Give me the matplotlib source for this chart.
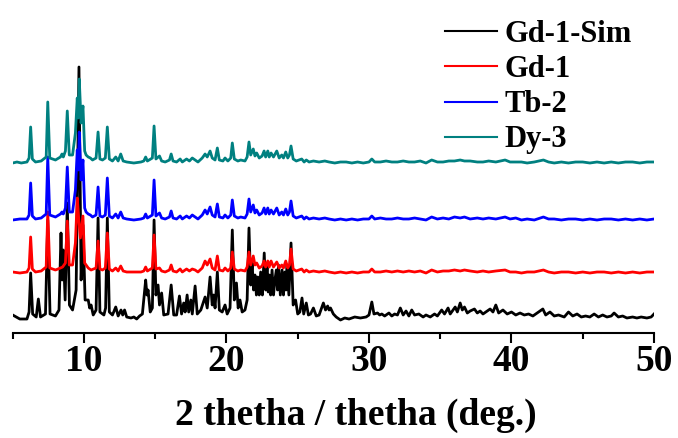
import matplotlib
matplotlib.use("Agg")
import matplotlib.pyplot as plt
from matplotlib.ticker import MultipleLocator

plt.rcParams['font.family'] = ['Liberation Serif', 'DejaVu Serif']
plt.rcParams['font.weight'] = 'bold'

series_names = ["Gd-1-Sim", "Gd-1", "Tb-2", "Dy-3"]
series_colors = ["#000000", "#ff0000", "#0000ff", "#008080"]
series_offsets = [13, 60, 113, 170]
x_ticks = [10, 20, 30, 40, 50]
x_label = "2 thetha / thetha (deg.)"

gd1_sim = [
    (5.0, 5), (5.5, 1), (6.0, 1), (6.15, 8), (6.26, 47), (6.4, 6), (6.65, 3), (6.8, 21), (6.95, 3),
    (7.3, 6), (7.46, 100), (7.62, 6), (8.0, 4), (8.25, 10), (8.39, 87), (8.47, 40), (8.55, 70),
    (8.68, 20), (8.83, 117), (8.98, 15), (9.2, 10), (9.45, 30), (9.65, 253), (9.8, 40), (9.93, 95),
    (10.08, 20), (10.3, 20), (10.4, 12), (10.5, 15), (10.65, 5), (10.85, 10), (10.99, 102),
    (11.12, 8), (11.4, 5), (11.52, 12), (11.64, 102), (11.78, 8), (12.0, 5), (12.23, 13), (12.4, 4),
    (12.6, 10), (12.72, 5), (12.85, 10), (13.0, 3), (13.3, 2), (13.5, 3), (13.7, 1), (13.9, 4),
    (14.1, 6), (14.33, 40), (14.42, 25), (14.5, 30), (14.65, 8), (14.8, 12), (14.92, 100),
    (15.05, 25), (15.2, 35), (15.3, 15), (15.45, 27), (15.6, 5), (15.9, 6), (16.12, 35), (16.3, 5),
    (16.5, 5), (16.7, 24), (16.85, 6), (17.0, 17), (17.1, 8), (17.24, 25), (17.35, 8), (17.5, 20),
    (17.6, 6), (17.8, 34), (17.95, 6), (18.2, 10), (18.5, 23), (18.65, 12), (18.85, 43), (19.0, 15),
    (19.1, 25), (19.2, 12), (19.36, 48), (19.5, 10), (19.7, 8), (19.9, 15), (20.05, 6), (20.25, 12),
    (20.41, 90), (20.55, 20), (20.7, 37), (20.82, 12), (20.95, 20), (21.1, 8), (21.3, 10),
    (21.45, 20), (21.58, 92), (21.7, 35), (21.8, 57), (21.9, 30), (22.0, 45), (22.1, 25),
    (22.2, 43), (22.3, 25), (22.4, 48), (22.52, 25), (22.65, 67), (22.75, 30), (22.85, 55),
    (22.93, 28), (23.0, 45), (23.1, 25), (23.2, 50), (23.3, 25), (23.4, 40), (23.5, 50), (23.58, 30),
    (23.65, 55), (23.78, 25), (23.9, 50), (24.0, 25), (24.1, 48), (24.18, 30), (24.25, 55),
    (24.38, 25), (24.53, 77), (24.68, 15), (24.85, 20), (25.0, 6), (25.15, 8), (25.3, 22),
    (25.42, 6), (25.6, 17), (25.75, 5), (25.9, 6), (26.1, 12), (26.3, 4), (26.5, 5), (26.8, 17),
    (26.95, 10), (27.1, 14), (27.2, 10), (27.3, 12), (27.5, 6), (27.7, 3), (28.0, 0), (28.3, 2),
    (28.6, 1), (29.0, 3), (29.4, 2), (29.8, 3), (30.0, 5), (30.2, 18), (30.35, 6), (30.6, 7),
    (30.75, 5), (30.9, 6), (31.1, 4), (31.4, 7), (31.6, 4), (31.8, 6), (32.0, 5), (32.2, 12),
    (32.4, 5), (32.6, 9), (32.8, 4), (33.0, 10), (33.2, 5), (33.5, 6), (33.8, 3), (34.0, 5),
    (34.3, 3), (34.6, 6), (34.8, 4), (35.1, 10), (35.3, 6), (35.55, 12), (35.7, 6), (35.9, 10),
    (36.05, 13), (36.2, 8), (36.4, 17), (36.55, 10), (36.7, 13), (36.9, 7), (37.1, 9), (37.4, 11),
    (37.6, 7), (37.8, 9), (38.0, 6), (38.2, 8), (38.5, 11), (38.7, 8), (38.9, 15), (39.1, 7),
    (39.4, 10), (39.7, 6), (40.0, 8), (40.3, 5), (40.6, 7), (40.9, 5), (41.2, 6), (41.5, 4),
    (41.8, 7), (42.2, 11), (42.4, 5), (42.7, 8), (43.0, 4), (43.3, 5), (43.7, 3), (44.0, 8),
    (44.3, 4), (44.6, 6), (44.9, 3), (45.2, 4), (45.5, 3), (45.8, 6), (46.1, 3), (46.4, 5),
    (46.7, 3), (47.0, 4), (47.2, 7), (47.5, 3), (47.8, 4), (48.1, 2), (48.5, 3), (48.8, 2),
    (49.1, 3), (49.5, 2), (49.8, 3), (50.0, 6),
]

gd1 = [
    (5.0, 1), (5.5, 0), (6.0, 1), (6.15, 5), (6.26, 36), (6.38, 4), (6.6, 1), (7.0, 2), (7.35, 6),
    (7.46, 61), (7.6, 5), (8.0, 3), (8.35, 5), (8.5, 6), (8.7, 10), (8.83, 52), (8.97, 8), (9.2, 8),
    (9.4, 30), (9.53, 75), (9.63, 55), (9.75, 35), (9.93, 57), (10.05, 10), (10.3, 5), (10.5, 3),
    (10.85, 5), (10.99, 32), (11.12, 4), (11.3, 3), (11.5, 5), (11.64, 40), (11.78, 4), (12.0, 2),
    (12.23, 5), (12.4, 2), (12.58, 7), (12.75, 2), (13.0, 1), (13.5, 1), (14.0, 1), (14.2, 2),
    (14.33, 6), (14.45, 2), (14.8, 5), (14.92, 38), (15.05, 4), (15.3, 5), (15.45, 2), (15.7, 1),
    (16.0, 3), (16.12, 8), (16.25, 2), (16.5, 1), (16.75, 4), (16.9, 1), (17.2, 4), (17.4, 2),
    (17.6, 4), (17.8, 3), (18.0, 1), (18.3, 5), (18.5, 12), (18.65, 8), (18.85, 14), (19.0, 5),
    (19.2, 3), (19.36, 17), (19.5, 3), (19.75, 2), (19.9, 5), (20.1, 2), (20.3, 5), (20.41, 21),
    (20.55, 4), (20.8, 2), (21.0, 3), (21.3, 2), (21.45, 6), (21.58, 21), (21.7, 8), (21.88, 17),
    (22.0, 8), (22.12, 10), (22.3, 5), (22.5, 7), (22.64, 12), (22.75, 6), (22.9, 12), (23.0, 6),
    (23.13, 12), (23.3, 6), (23.53, 11), (23.7, 5), (23.88, 8), (24.0, 5), (24.16, 12), (24.3, 5),
    (24.42, 8), (24.53, 24), (24.68, 4), (24.9, 2), (25.1, 3), (25.28, 4), (25.45, 1), (25.6, 3),
    (25.8, 1), (26.1, 2), (26.5, 1), (26.9, 2), (27.2, 1), (27.6, 0), (28.0, 1), (28.4, 0),
    (28.8, 1), (29.2, 0), (29.6, 1), (30.0, 1), (30.2, 4), (30.4, 1), (30.8, 1), (31.2, 2),
    (31.6, 1), (32.0, 2), (32.4, 1), (32.8, 2), (33.2, 1), (33.6, 2), (34.0, 0), (34.4, 3),
    (34.8, 1), (35.2, 2), (35.6, 2), (36.0, 3), (36.4, 2), (36.7, 3), (37.1, 2), (37.6, 1),
    (38.0, 2), (38.4, 1), (38.9, 2), (39.55, 3), (39.9, 1), (40.3, 1), (40.7, 0), (41.1, 1),
    (41.6, 1), (42.24, 3), (42.6, 1), (43.0, 0), (43.5, 1), (44.0, 1), (44.5, 0), (45.0, 1),
    (45.5, 0), (46.0, 1), (46.5, 1), (47.0, 0), (47.5, 1), (48.0, 0), (48.5, 1), (49.0, 0),
    (49.5, 1), (50.0, 1),
]

tb2 = [
    (5.0, 0), (5.5, 1), (6.0, 1), (6.15, 5), (6.26, 37), (6.38, 4), (6.6, 1), (7.0, 2), (7.35, 6),
    (7.46, 63), (7.6, 5), (8.0, 3), (8.35, 6), (8.46, 8), (8.55, 6), (8.7, 12), (8.83, 53),
    (8.97, 8), (9.2, 8), (9.4, 30), (9.53, 70), (9.6, 50), (9.67, 88), (9.8, 40), (9.93, 60),
    (10.05, 12), (10.15, 8), (10.3, 6), (10.45, 5), (10.6, 3), (10.85, 5), (10.99, 33), (11.12, 4),
    (11.3, 3), (11.5, 5), (11.64, 42), (11.78, 4), (12.0, 2), (12.23, 6), (12.4, 2), (12.58, 8),
    (12.75, 2), (13.0, 1), (13.5, 0), (14.0, 1), (14.2, 2), (14.33, 6), (14.45, 2), (14.8, 5),
    (14.92, 40), (15.05, 4), (15.3, 7), (15.45, 2), (15.7, 1), (16.0, 3), (16.12, 9), (16.25, 2),
    (16.5, 1), (16.75, 4), (16.9, 1), (17.2, 4), (17.4, 2), (17.6, 5), (17.8, 3), (18.0, 1),
    (18.3, 5), (18.5, 10), (18.65, 6), (18.85, 13), (19.0, 5), (19.2, 3), (19.36, 16), (19.5, 3),
    (19.75, 2), (19.9, 5), (20.1, 2), (20.3, 5), (20.41, 20), (20.55, 4), (20.8, 2), (21.0, 3),
    (21.3, 2), (21.45, 6), (21.58, 21), (21.7, 8), (21.88, 15), (22.0, 7), (22.12, 10), (22.3, 5),
    (22.5, 7), (22.64, 12), (22.75, 6), (22.9, 12), (23.0, 6), (23.13, 10), (23.3, 6), (23.53, 12),
    (23.7, 5), (23.88, 8), (24.0, 5), (24.16, 11), (24.3, 5), (24.42, 8), (24.53, 19), (24.68, 4),
    (24.9, 2), (25.1, 3), (25.28, 4), (25.45, 1), (25.6, 3), (25.8, 1), (26.1, 2), (26.5, 1),
    (26.9, 2), (27.2, 1), (27.6, 0), (28.0, 1), (28.4, 0), (28.8, 1), (29.2, 0), (29.6, 1),
    (30.0, 1), (30.2, 4), (30.4, 1), (30.8, 2), (31.2, 1), (31.6, 1), (32.0, 2), (32.4, 1),
    (32.8, 1), (33.2, 2), (33.6, 1), (34.0, 0), (34.4, 3), (34.8, 1), (35.2, 2), (35.6, 1),
    (36.0, 3), (36.4, 2), (36.7, 3), (37.1, 1), (37.6, 2), (38.0, 1), (38.4, 2), (38.9, 1),
    (39.55, 3), (39.9, 1), (40.3, 2), (40.7, 0), (41.1, 1), (41.6, 0), (42.24, 3), (42.6, 1),
    (43.0, 1), (43.5, 0), (44.0, 1), (44.5, 1), (45.0, 0), (45.5, 1), (46.0, 0), (46.5, 1),
    (47.0, 1), (47.5, 0), (48.0, 1), (48.5, 0), (49.0, 1), (49.5, 0), (50.0, 1),
]

dy3 = [
    (5.0, 0), (5.3, 1), (5.6, 0), (6.0, 1), (6.15, 5), (6.26, 36), (6.38, 4), (6.6, 1), (7.0, 2),
    (7.35, 6), (7.46, 61), (7.6, 5), (8.0, 3), (8.35, 6), (8.46, 9), (8.55, 6), (8.7, 12),
    (8.83, 52), (8.97, 8), (9.2, 8), (9.4, 30), (9.53, 65), (9.6, 45), (9.67, 84), (9.8, 40),
    (9.93, 57), (10.05, 12), (10.15, 8), (10.3, 6), (10.45, 5), (10.6, 3), (10.85, 5), (10.99, 31),
    (11.12, 4), (11.3, 3), (11.5, 5), (11.64, 36), (11.78, 4), (12.0, 2), (12.23, 6), (12.4, 2),
    (12.58, 9), (12.75, 2), (13.0, 1), (13.5, 0), (14.0, 1), (14.2, 2), (14.33, 6), (14.45, 2),
    (14.8, 5), (14.92, 37), (15.05, 4), (15.3, 7), (15.45, 2), (15.7, 1), (16.0, 3), (16.12, 9),
    (16.25, 2), (16.5, 1), (16.75, 4), (16.9, 1), (17.2, 4), (17.4, 2), (17.6, 5), (17.8, 3),
    (18.0, 1), (18.3, 5), (18.5, 9), (18.65, 6), (18.85, 12), (19.0, 5), (19.2, 3), (19.36, 15),
    (19.5, 3), (19.75, 2), (19.9, 5), (20.1, 2), (20.3, 5), (20.41, 20), (20.55, 4), (20.8, 2),
    (21.0, 3), (21.3, 2), (21.45, 6), (21.58, 21), (21.7, 8), (21.88, 14), (22.0, 7), (22.12, 10),
    (22.3, 5), (22.5, 7), (22.64, 12), (22.75, 6), (22.9, 12), (23.0, 6), (23.13, 10), (23.3, 6),
    (23.53, 12), (23.7, 5), (23.88, 8), (24.0, 5), (24.16, 11), (24.3, 5), (24.42, 8), (24.53, 17),
    (24.68, 4), (24.9, 2), (25.1, 3), (25.28, 4), (25.45, 1), (25.6, 3), (25.8, 1), (26.1, 2),
    (26.5, 1), (26.9, 2), (27.2, 1), (27.6, 0), (28.0, 1), (28.4, 1), (28.8, 0), (29.2, 1),
    (29.6, 0), (30.0, 1), (30.2, 4), (30.4, 1), (30.8, 1), (31.2, 2), (31.6, 1), (32.0, 1),
    (32.4, 2), (32.8, 1), (33.2, 1), (33.6, 2), (34.0, 0), (34.4, 3), (34.8, 1), (35.2, 1),
    (35.6, 2), (36.0, 2), (36.4, 3), (36.7, 2), (37.1, 2), (37.6, 1), (38.0, 1), (38.4, 2),
    (38.9, 1), (39.55, 3), (39.9, 1), (40.3, 1), (40.7, 1), (41.1, 0), (41.6, 1), (42.24, 3),
    (42.6, 1), (43.0, 0), (43.5, 1), (44.0, 0), (44.5, 1), (45.0, 1), (45.5, 0), (46.0, 1),
    (46.5, 0), (47.0, 1), (47.5, 0), (48.0, 1), (48.5, 1), (49.0, 0), (49.5, 1), (50.0, 1),
]

all_series = [gd1_sim, gd1, tb2, dy3]

W, H = 678, 438
fig = plt.figure(figsize=(W / 100, H / 100), dpi=100)
ax_left, ax_right, ax_bottom = 12.7, 654.0, 333.0
ax = fig.add_axes([ax_left / W, 1 - ax_bottom / H, (ax_right - ax_left) / W, ax_bottom / H])

for data, name, color, off in zip(all_series, series_names, series_colors, series_offsets):
    xs = [p[0] for p in data]
    ys = [p[1] + off for p in data]
    ax.plot(xs, ys, color=color, lw=2.0, label=name, solid_joinstyle='round')

ax.set_xlim(5, 50)
ax.set_ylim(0, ax_bottom)
for s in ['left', 'top', 'right']:
    ax.spines[s].set_visible(False)
ax.spines['bottom'].set_linewidth(1.5)
ax.set_yticks([])
ax.set_xticks(x_ticks)
ax.xaxis.set_minor_locator(MultipleLocator(5))
ax.tick_params(axis='x', which='major', direction='out', length=7, width=1.5, pad=1,
               labelsize=27)
ax.tick_params(axis='x', which='minor', direction='out', length=4.3, width=1.5)
for lab in ax.get_xticklabels():
    lab.set_fontweight('bold')

ax.set_xlabel(x_label, fontsize=27, fontweight='bold')
ax.xaxis.label.set_va('baseline')
ax.xaxis.set_label_coords((356 - ax_left) / (ax_right - ax_left), -(425 - ax_bottom) / ax_bottom)

leg = ax.legend(loc='upper left', bbox_to_anchor=(445 / W, 1 - 20 / H), bbox_transform=fig.transFigure,
                frameon=False, fontsize=22, handlelength=1.7, handletextpad=0.25,
                labelspacing=0.2, borderpad=0, borderaxespad=0)
for t in leg.get_texts():
    t.set_fontweight('bold')
for l in leg.get_lines():
    l.set_linewidth(1.5)

fig.savefig("out.png", dpi=100)
